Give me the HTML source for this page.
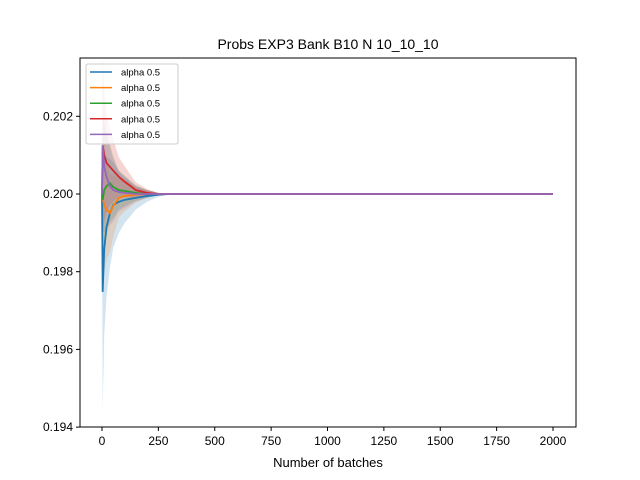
<!DOCTYPE html>
<html><head><meta charset="utf-8"><style>
html,body{margin:0;background:#fff;width:640px;height:480px;overflow:hidden}svg{display:block;font-family:"Liberation Sans","DejaVu Sans",sans-serif}
</style></head><body>
<svg id="c" width="640" height="480">
<defs><clipPath id="pc"><rect x="80" y="58" width="496" height="369"/></clipPath></defs>
<rect width="640" height="480" fill="#fff"/>
<text x="328" y="49" text-anchor="middle" font-size="14">Probs EXP3 Bank B10 N 10_10_10</text>
<g id="bands" clip-path="url(#pc)"></g><g id="lines" clip-path="url(#pc)"></g>
<rect x="80" y="58" width="496" height="369" fill="none" stroke="#000" stroke-width="1"/>
<g id="ticks" font-size="12"></g>
<text x="328" y="467" text-anchor="middle" font-size="13">Number of batches</text>
<g id="legend"></g>
</svg>
<script>
const xs=[0,3,10,20,35,50,75,100,150,200,250,300,2000];
const blue=[0.2,0.19748,0.1986,0.19915,0.1995,0.19972,0.1998,0.19985,0.1999,0.19995,0.19998,0.2,0.2];
const orange=[0.2,0.1999,0.1997,0.1996,0.19951,0.1997,0.1999,0.19995,0.19998,0.2,0.2,0.2,0.2];
const green=[0.2,0.19985,0.2001,0.2002,0.20028,0.20018,0.2001,0.20008,0.20003,0.2,0.2,0.2,0.2];
const red=[0.2,0.20125,0.201,0.2008,0.2007,0.2006,0.20044,0.20032,0.2001,0.20003,0.2,0.2,0.2];
const purple=[0.2,0.20125,0.2007,0.20044,0.2002,0.2001,0.20005,0.20003,0.2,0.2,0.2,0.2,0.2];
const bandBlue=[0,0.0031,0.0022,0.0018,0.0014,0.0011,0.0008,0.0006,0.0003,0.00015,0.00005,0,0];
const bandOther=[0,0.0022,0.0017,0.0013,0.001,0.0008,0.0005,0.0004,0.0002,0.0001,0.00003,0,0];
const series=[blue,orange,green,red,purple];
const colors=["#1f77b4","#ff7f0e","#2ca02c","#d62728","#9467bd"];
const labels=["alpha 0.5","alpha 0.5","alpha 0.5","alpha 0.5","alpha 0.5"];
const xTicks=[0,250,500,750,1000,1250,1500,1750,2000];
const yTicks=[0.194,0.196,0.198,0.2,0.202];
const X=v=>102+v*0.2255;
const Y=v=>194-(v-0.2)*38850;
const NS="http://www.w3.org/2000/svg";
function mk(t,a,p){const e=document.createElementNS(NS,t);for(const k in a)e.setAttribute(k,a[k]);p.appendChild(e);return e;}
const bands=document.getElementById('bands'),lines=document.getElementById('lines');
series.forEach((s,i)=>{
  const b=i===0?bandBlue:bandOther;
  let up=xs.map((x,j)=>X(x)+','+Y(s[j]+b[j]));
  let lo=xs.map((x,j)=>X(x)+','+Y(s[j]-b[j])).reverse();
  const p=mk('polygon',{points:up.concat(lo).join(' '),fill:colors[i],'fill-opacity':0.2},bands);
  
  
});
series.forEach((s,i)=>{
  const l=mk('polyline',{points:xs.map((x,j)=>X(x)+','+Y(s[j])).join(' '),fill:'none',stroke:colors[i],'stroke-width':1.8},lines);
  
  
});
const tk=document.getElementById('ticks');
xTicks.forEach(v=>{
  const l=mk('line',{x1:X(v),x2:X(v),y1:427,y2:431,stroke:'#000'},tk);
  
  
  const t=mk('text',{x:X(v),y:445,'text-anchor':'middle'},tk);t.textContent=v;
  
  
});
yTicks.forEach(v=>{
  const l=mk('line',{x1:76,x2:80,y1:Y(v),y2:Y(v),stroke:'#000'},tk);
  
  
  const t=mk('text',{x:73,y:Y(v)+4,'text-anchor':'end'},tk);t.textContent=v.toFixed(3);
  
  
});
const lg=document.getElementById('legend');
const box=mk('rect',{x:86,y:64,width:92,height:80,rx:2,fill:'#fff','fill-opacity':0.8,stroke:'#ccc'},lg);


labels.forEach((lb,i)=>{
  const y=72+i*15.6;
  const l=mk('line',{x1:90,x2:112,y1:y,y2:y,stroke:colors[i],'stroke-width':1.5},lg);
  
  
  const t=mk('text',{x:121,y:y+3.5,'font-size':9.5},lg);t.textContent=lb;
  
  
});
</script>
</body></html>
